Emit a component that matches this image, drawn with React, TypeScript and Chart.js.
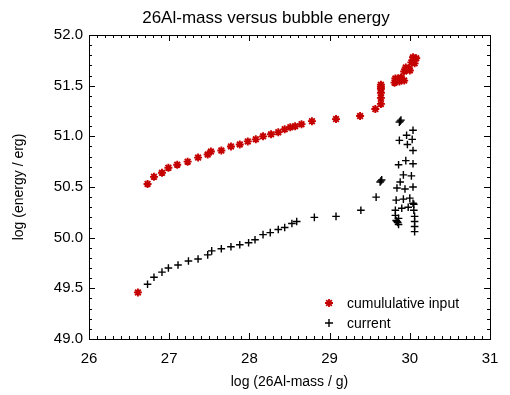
import React, { useEffect, useRef } from 'react';
import { Chart, registerables } from 'chart.js';

Chart.register(...registerables);

const TITLE = '26Al-mass versus bubble energy';
const X_LABEL = 'log (26Al-mass / g)';
const Y_LABEL = 'log (energy / erg)';
const LEGEND_LABELS = ['cumululative input', 'current'];
const X_MIN = 26;
const X_MAX = 31;
const Y_MIN = 49;
const Y_MAX = 52;

const cumX = [
  26.61, 26.73, 26.81, 26.91, 26.99, 27.1, 27.23, 27.36, 27.48, 27.52, 27.65, 27.77, 27.88, 27.98,
  28.08, 28.17, 28.27, 28.36, 28.44, 28.51, 28.57, 28.65, 28.78, 29.08, 29.38, 29.57, 29.64, 29.64,
  29.64, 29.64, 29.64, 29.64, 29.81, 29.84, 29.87, 29.9, 29.93, 29.85, 29.89, 29.82, 29.93, 29.96,
  29.99, 29.95, 30.0, 30.02, 30.05, 30.08, 30.04, 30.06,
];
const cumY = [
  49.46, 50.53, 50.6, 50.64, 50.69, 50.72, 50.75, 50.79, 50.82, 50.85, 50.86, 50.9, 50.92, 50.95,
  50.97, 51.0, 51.02, 51.04, 51.07, 51.09, 51.1, 51.12, 51.15, 51.17, 51.2, 51.27, 51.32, 51.38,
  51.43, 51.47, 51.49, 51.51, 51.53, 51.55, 51.54, 51.56, 51.55, 51.57, 51.58, 51.57, 51.64, 51.66,
  51.67, 51.68, 51.65, 51.73, 51.75, 51.77, 51.78, 51.72,
];

const curX = [
  26.73, 26.81, 26.91, 26.99, 27.11, 27.24, 27.36, 27.48, 27.53, 27.65, 27.77, 27.88, 27.99, 28.07,
  28.17, 28.26, 28.36, 28.44, 28.53, 28.59, 28.81, 29.08, 29.39, 29.58, 29.64, 29.65, 29.63,
  29.88, 29.89, 29.87, 30.04, 29.96, 29.87, 30.03, 29.97, 30.04, 29.86, 29.95, 30.04, 29.92, 30.02,
  29.88, 29.84, 29.94, 30.04, 29.83, 29.92, 30.0, 30.04, 30.05, 29.82, 29.9, 29.98, 30.05, 29.82,
  29.86, 29.84, 29.85, 29.83, 30.06, 30.06, 30.06, 30.06, 29.86,
];
const curY = [
  49.54, 49.61, 49.66, 49.7, 49.73, 49.77, 49.79, 49.83, 49.87, 49.89, 49.91, 49.93, 49.95, 49.98,
  50.03, 50.05, 50.08, 50.1, 50.14, 50.16, 50.2, 50.21, 50.27, 50.4, 50.56, 50.57, 50.55,
  51.15, 51.16, 51.14, 51.06, 51.01, 50.96, 50.97, 50.92, 50.86, 50.72, 50.76, 50.73, 50.62, 50.61,
  50.55, 50.49, 50.48, 50.5, 50.37, 50.38, 50.39, 50.34, 50.33, 50.27, 50.29, 50.3, 50.27, 50.22,
  50.19, 50.16, 50.15, 50.17, 50.21, 50.16, 50.11, 50.06, 50.13,
];

const RED = '#c40000';
const FONT = '"Liberation Sans", Arial, Helvetica, sans-serif';

const idlPlugin = {
  id: 'idlFrame',
  afterDraw(chart: any) {
    const { ctx, chartArea: a, scales } = chart;
    const xs = scales.x;
    const ys = scales.y;
    ctx.save();
    ctx.strokeStyle = '#000';
    ctx.lineWidth = 1;
    ctx.strokeRect(a.left + 0.5, a.top + 0.5, a.right - a.left, a.bottom - a.top);
    ctx.beginPath();
    const nx = Math.round((X_MAX - X_MIN) * 10);
    for (let i = 0; i <= nx; i++) {
      const px = Math.round(xs.getPixelForValue(X_MIN + i * 0.1)) + 0.5;
      const len = i % 10 === 0 ? 6 : 3;
      ctx.moveTo(px, a.bottom);
      ctx.lineTo(px, a.bottom - len);
      ctx.moveTo(px, a.top);
      ctx.lineTo(px, a.top + len);
    }
    const ny = Math.round((Y_MAX - Y_MIN) * 10);
    for (let i = 0; i <= ny; i++) {
      const py = Math.round(ys.getPixelForValue(Y_MIN + i * 0.1)) + 0.5;
      const len = i % 5 === 0 ? 6 : 3;
      ctx.moveTo(a.left, py);
      ctx.lineTo(a.left + len, py);
      ctx.moveTo(a.right, py);
      ctx.lineTo(a.right - len, py);
    }
    ctx.stroke();

    // title
    ctx.fillStyle = '#000';
    ctx.font = '17px ' + FONT;
    ctx.textAlign = 'center';
    ctx.textBaseline = 'middle';
    ctx.fillText(TITLE, 266, 18);

    // legend
    const lx = 329;
    const ly1 = 303;
    const ly2 = 323;
    const r = 4;
    ctx.strokeStyle = RED;
    ctx.lineWidth = 1.8;
    ctx.beginPath();
    ctx.moveTo(lx - r, ly1);
    ctx.lineTo(lx + r, ly1);
    ctx.moveTo(lx, ly1 - r);
    ctx.lineTo(lx, ly1 + r);
    const d = r * 0.7071;
    ctx.moveTo(lx - d, ly1 - d);
    ctx.lineTo(lx + d, ly1 + d);
    ctx.moveTo(lx - d, ly1 + d);
    ctx.lineTo(lx + d, ly1 - d);
    ctx.stroke();
    ctx.strokeStyle = '#000';
    ctx.lineWidth = 1.4;
    ctx.beginPath();
    ctx.moveTo(lx - r, ly2);
    ctx.lineTo(lx + r, ly2);
    ctx.moveTo(lx, ly2 - r);
    ctx.lineTo(lx, ly2 + r);
    ctx.stroke();
    ctx.font = '14px ' + FONT;
    ctx.textAlign = 'left';
    ctx.fillText(LEGEND_LABELS[0], 347, ly1 + 1);
    ctx.fillText(LEGEND_LABELS[1], 347, ly2 + 1);
    ctx.restore();
  },
};

export default function App() {
  const ref = useRef<HTMLCanvasElement | null>(null);
  useEffect(() => {
    if (!ref.current) return;
    const chart = new Chart(ref.current, {
      type: 'scatter',
      data: {
        datasets: [
          {
            label: LEGEND_LABELS[0],
            data: cumX.map((x, i) => ({ x, y: cumY[i] })),
            pointStyle: 'star',
            radius: 4,
            borderWidth: 1.9,
            borderColor: RED,
            backgroundColor: RED,
          },
          {
            label: LEGEND_LABELS[1],
            data: curX.map((x, i) => ({ x, y: curY[i] })),
            pointStyle: 'cross',
            radius: 3.8,
            borderWidth: 1.4,
            borderColor: '#000',
            backgroundColor: '#000',
          },
        ],
      },
      options: {
        responsive: false,
        animation: false,
        layout: { padding: { top: 35, right: 20, left: 0, bottom: 0 } },
        plugins: { legend: { display: false }, title: { display: false }, tooltip: { enabled: false } },
        scales: {
          x: {
            type: 'linear',
            min: X_MIN,
            max: X_MAX,
            grid: { display: false, drawTicks: false },
            border: { display: false },
            ticks: { stepSize: 1, padding: 11, color: '#000', font: { family: FONT, size: 15 }, callback: (v: any) => String(v) },
            title: { display: true, text: X_LABEL, color: '#000', font: { family: FONT, size: 14 }, padding: { top: 0, bottom: 4 } },
            afterFit: (s: any) => { s.height = 56; },
          },
          y: {
            type: 'linear',
            min: Y_MIN,
            max: Y_MAX,
            grid: { display: false, drawTicks: false },
            border: { display: false },
            ticks: { stepSize: 0.5, padding: 6, color: '#000', font: { family: FONT, size: 15 }, callback: (v: any) => Number(v).toFixed(1) },
            title: { display: true, text: Y_LABEL, color: '#000', font: { family: FONT, size: 14 }, padding: { top: 11, bottom: 0 } },
            afterFit: (s: any) => { s.width = 89; },
          },
        },
      },
      plugins: [idlPlugin],
    });
    return () => chart.destroy();
  }, []);
  return (
    <div style={{ position: 'absolute', left: 0, top: 0, width: 510, height: 395, background: '#fff' }}>
      <canvas ref={ref} width={510} height={395} />
    </div>
  );
}
